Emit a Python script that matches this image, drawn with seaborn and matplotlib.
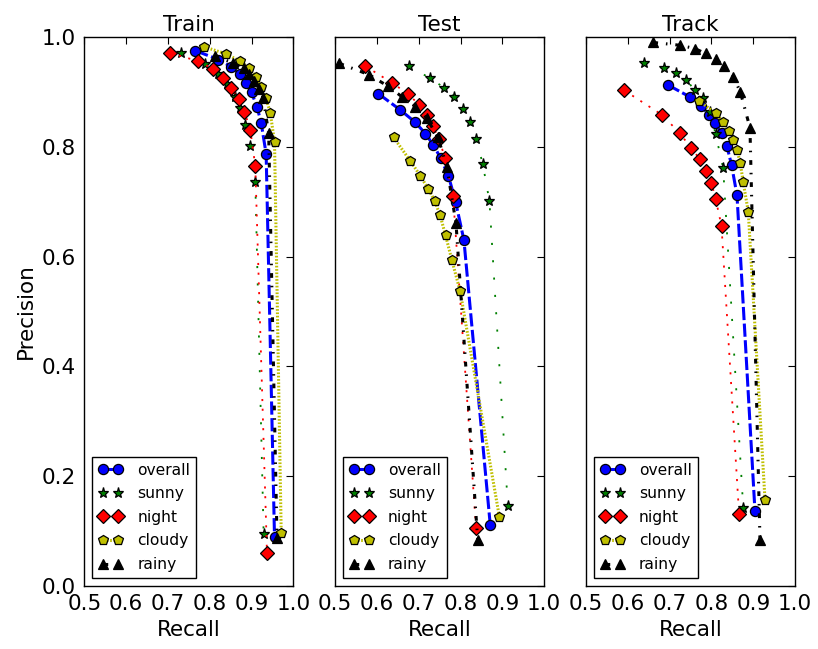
"""Curvas precision-recall por condicion (train / test / track)."""

import matplotlib
matplotlib.use("Agg")

import matplotlib.pyplot as plt
import seaborn as sns

# --- datos --------------------------------------------------------------
panel_titles = ["Train", "Test", "Track"]
conditions = ["overall", "sunny", "night", "cloudy", "rainy"]

train_overall_r = [0.766, 0.821, 0.851, 0.872, 0.887, 0.900, 0.913, 0.923, 0.935, 0.955]
train_overall_p = [0.975, 0.959, 0.946, 0.932, 0.916, 0.899, 0.873, 0.844, 0.787, 0.089]
train_sunny_r = [0.732, 0.789, 0.820, 0.841, 0.861, 0.872, 0.885, 0.897, 0.909, 0.929]
train_sunny_p = [0.971, 0.950, 0.932, 0.914, 0.891, 0.871, 0.840, 0.801, 0.736, 0.094]
train_night_r = [0.704, 0.773, 0.807, 0.832, 0.852, 0.870, 0.883, 0.897, 0.909, 0.937]
train_night_p = [0.971, 0.956, 0.942, 0.925, 0.907, 0.887, 0.864, 0.831, 0.765, 0.060]
train_cloudy_r = [0.787, 0.840, 0.872, 0.893, 0.911, 0.923, 0.935, 0.945, 0.955, 0.971]
train_cloudy_p = [0.982, 0.969, 0.956, 0.944, 0.928, 0.909, 0.888, 0.861, 0.809, 0.097]
train_rainy_r = [0.812, 0.856, 0.881, 0.895, 0.907, 0.919, 0.928, 0.941, 0.961]
train_rainy_p = [0.965, 0.953, 0.943, 0.933, 0.920, 0.905, 0.888, 0.825, 0.087]

test_overall_r = [0.603, 0.656, 0.691, 0.716, 0.735, 0.752, 0.771, 0.788, 0.808, 0.871]
test_overall_p = [0.897, 0.867, 0.845, 0.824, 0.803, 0.780, 0.747, 0.700, 0.630, 0.111]
test_sunny_r = [0.676, 0.727, 0.760, 0.784, 0.805, 0.823, 0.837, 0.853, 0.869, 0.913]
test_sunny_p = [0.947, 0.925, 0.908, 0.891, 0.868, 0.846, 0.814, 0.769, 0.701, 0.146]
test_night_r = [0.572, 0.635, 0.675, 0.700, 0.720, 0.734, 0.748, 0.763, 0.782, 0.837]
test_night_p = [0.947, 0.917, 0.896, 0.877, 0.858, 0.838, 0.814, 0.780, 0.710, 0.105]
test_cloudy_r = [0.640, 0.680, 0.704, 0.722, 0.738, 0.751, 0.764, 0.779, 0.799, 0.893]
test_cloudy_p = [0.817, 0.774, 0.747, 0.724, 0.702, 0.675, 0.639, 0.594, 0.537, 0.125]
test_rainy_r = [0.510, 0.582, 0.627, 0.660, 0.691, 0.719, 0.746, 0.767, 0.789, 0.841]
test_rainy_p = [0.952, 0.931, 0.910, 0.891, 0.873, 0.852, 0.817, 0.764, 0.661, 0.083]

track_overall_r = [0.695, 0.748, 0.776, 0.794, 0.809, 0.824, 0.837, 0.848, 0.861, 0.904]
track_overall_p = [0.913, 0.891, 0.874, 0.858, 0.843, 0.825, 0.801, 0.767, 0.712, 0.137]
track_sunny_r = [0.638, 0.686, 0.716, 0.740, 0.760, 0.780, 0.796, 0.810, 0.828, 0.876]
track_sunny_p = [0.952, 0.943, 0.934, 0.922, 0.903, 0.888, 0.864, 0.823, 0.761, 0.142]
track_night_r = [0.591, 0.682, 0.724, 0.752, 0.773, 0.786, 0.800, 0.810, 0.824, 0.866]
track_night_p = [0.903, 0.858, 0.825, 0.797, 0.777, 0.756, 0.734, 0.705, 0.656, 0.131]
track_cloudy_r = [0.770, 0.810, 0.828, 0.842, 0.852, 0.861, 0.869, 0.876, 0.888, 0.928]
track_cloudy_p = [0.884, 0.861, 0.845, 0.828, 0.812, 0.794, 0.770, 0.735, 0.682, 0.157]
track_rainy_r = [0.661, 0.724, 0.760, 0.786, 0.810, 0.829, 0.852, 0.869, 0.892, 0.916]
track_rainy_p = [0.990, 0.985, 0.979, 0.970, 0.960, 0.948, 0.928, 0.900, 0.835, 0.084]

x_ticks = [0.5, 0.6, 0.7, 0.8, 0.9, 1.0]
y_ticks = [0.0, 0.2, 0.4, 0.6, 0.8, 1.0]

panels = [
    [(train_overall_r, train_overall_p), (train_sunny_r, train_sunny_p), (train_night_r, train_night_p),
     (train_cloudy_r, train_cloudy_p), (train_rainy_r, train_rainy_p)],
    [(test_overall_r, test_overall_p), (test_sunny_r, test_sunny_p), (test_night_r, test_night_p),
     (test_cloudy_r, test_cloudy_p), (test_rainy_r, test_rainy_p)],
    [(track_overall_r, track_overall_p), (track_sunny_r, track_sunny_p), (track_night_r, track_night_p),
     (track_cloudy_r, track_cloudy_p), (track_rainy_r, track_rainy_p)],
]

# estilo de cada serie (colores "clasicos" de matplotlib)
styles = {
    "overall": dict(color="#0000ff", marker="o", linestyle=(0, (9.5, 2.5)), linewidth=2.2, markersize=7.3),
    "sunny": dict(color="#008000", marker="*", linestyle=(0, (1.5, 11)), linewidth=1.3, markersize=8),
    "night": dict(color="#ff0000", marker="D", linestyle=(0, (1.5, 5.5)), linewidth=1.3, markersize=6.8),
    "cloudy": dict(color="#bfbf00", marker="p", linestyle=(0, (1.2, 1.2)), linewidth=2.2, markersize=7.8),
    "rainy": dict(color="#000000", marker="^", linestyle=(0, (3.4, 5.7, 1.1, 5.7)), linewidth=2.2, markersize=7.8),
}

sns.set_style("white")
plt.rcParams.update({
    "font.family": ["DejaVu Sans"],
    "text.color": "black",
    "axes.labelcolor": "black",
    "lines.scale_dashes": False,
    "xtick.direction": "in",
    "ytick.direction": "in",
    "xtick.top": True,
    "ytick.right": True,
    "xtick.major.size": 5,
    "ytick.major.size": 5,
    "xtick.major.pad": 6,
    "ytick.major.pad": 6,
    "axes.edgecolor": "black",
    "axes.linewidth": 1.0,
})

fig, axes = plt.subplots(1, 3, figsize=(8.18, 6.49), dpi=100, sharey=True)
fig.subplots_adjust(left=0.103, right=0.972, top=0.943, bottom=0.097, wspace=0.2)

for ax, title, series in zip(axes, panel_titles, panels):
    for name, (rec, prec) in zip(conditions, series):
        st = styles[name]
        sns.lineplot(x=rec, y=prec, ax=ax, sort=False, estimator=None, label=name,
                     color=st["color"], marker=st["marker"], linestyle=st["linestyle"],
                     linewidth=st["linewidth"], markersize=st["markersize"],
                     markeredgecolor="black", markeredgewidth=0.9)
    ax.set_xlim(0.5, 1.0)
    ax.set_ylim(0.0, 1.0)
    ax.set_xticks(x_ticks)
    ax.set_yticks(y_ticks)
    ax.set_xticklabels([f"{t:.1f}" for t in x_ticks])
    ax.tick_params(labelsize=15.5, colors="black")
    ax.set_title(title, fontsize=15.5, pad=4, color="black")
    ax.set_xlabel("Recall", fontsize=15.5, color="black")
    ax.set_ylabel("")
    handles, labels = ax.get_legend_handles_labels()
    leg = ax.legend(handles, labels, loc="lower left", fontsize=11.2, numpoints=2, handlelength=1.6,
                    handletextpad=0.9, borderpad=0.4, labelspacing=0.55, borderaxespad=0.5,
                    frameon=True, fancybox=False, framealpha=1, edgecolor="black")
    for text in leg.get_texts():
        text.set_color("black")
    for spine in ax.spines.values():
        spine.set_visible(True)

axes[0].set_yticklabels([f"{t:.1f}" for t in y_ticks])
axes[0].set_ylabel("Precision", fontsize=15.5, color="black")

fig.savefig("out.png", dpi=100)
plt.close(fig)
